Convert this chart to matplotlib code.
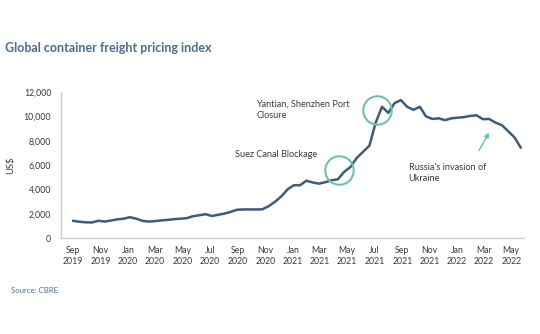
import numpy as np
import pandas as pd
import matplotlib
matplotlib.use("Agg")
import matplotlib.pyplot as plt

plt.rcParams['font.family'] = ['Lato', 'DejaVu Sans']

# fortnightly index values (US$), Sep 2019 - May 2022
dates = pd.date_range('2019-09-01', periods=72, freq='14D')
values = [1420, 1350, 1300, 1290, 1430, 1360, 1450, 1540, 1600, 1720,
          1600, 1420, 1360, 1400, 1460, 1500, 1560, 1600, 1640, 1800,
          1880, 1970, 1820, 1920, 2020, 2160, 2330, 2360, 2360, 2360,
          2370, 2620, 2980, 3420, 4000, 4350, 4350, 4720, 4580, 4480,
          4600, 4760, 4840, 5450, 5850, 6600, 7100, 7600, 9500, 10800,
          10300, 11100, 11350, 10800, 10550, 10800, 10000, 9800, 9850, 9700,
          9850, 9900, 9950, 10050, 10100, 9780, 9800, 9500, 9300, 8800,
          8300, 7450]

# events circled on the chart
event_dates = pd.to_datetime(['2021-04-14', '2021-07-07'])
event_values = [5590, 10520]

line_col = '#3e5b78'
teal = '#6fc2aa'
txt = '#3a3a3a'

fig = plt.figure(figsize=(5.4, 3.34), dpi=100)
ax = fig.add_axes([0.113, 0.287, 0.857, 0.437])

ax.plot(dates, values, color=line_col, lw=1.8, solid_joinstyle='round', zorder=3)
ax.plot(event_dates, event_values, 'o', ms=20.5, mfc='none', mec=teal, mew=1.5, zorder=4)

ax.set_ylim(0, 12000)
ax.set_yticks(np.arange(0, 12001, 2000))
ax.set_yticklabels([f'{v:,}' for v in range(0, 12001, 2000)])
ax.set_xlim(pd.Timestamp('2019-08-05'), pd.Timestamp('2022-05-29'))
ticks = pd.date_range('2019-09-01', '2022-05-01', freq='2MS')
ax.set_xticks(ticks)
ax.set_xticklabels([d.strftime('%b\n%Y') for d in ticks])
ax.tick_params(length=0, labelsize=6.3, colors=txt, pad=7)
ax.tick_params(axis='x', pad=6)
for s in ['top', 'right']:
    ax.spines[s].set_visible(False)
for s in ['left', 'bottom']:
    ax.spines[s].set_color('#c5ced6')
    ax.spines[s].set_linewidth(1.0)
ax.set_ylabel('US$', fontsize=6.8, color=txt, labelpad=6)

ax.text(pd.Timestamp('2020-10-12'), 10550, 'Yantian, Shenzhen Port\nClosure', fontsize=6.6,
        color=txt, va='center', ha='left', linespacing=1.2)
ax.text(pd.Timestamp('2020-08-26'), 6900, 'Suez Canal Blockage', fontsize=6.6,
        color=txt, va='center', ha='left')
ax.text(pd.Timestamp('2021-09-15'), 5340, "Russia's invasion of\nUkraine", fontsize=6.6,
        color=txt, va='center', ha='left', linespacing=1.3)
ax.annotate('', xy=(pd.Timestamp('2022-03-16'), 8880), xytext=(pd.Timestamp('2022-02-15'), 6990),
            arrowprops=dict(arrowstyle='-|>', color=teal, lw=1.0, mutation_scale=7))

fig.text(0.01, 0.855, 'Global container freight pricing index', fontsize=9,
         fontweight='bold', color='#4d6d8c', va='center')
fig.text(0.02, 0.13, 'Source: CBRE', fontsize=5.6, color='#4d6d8c', va='center')

fig.savefig('out.png', dpi=100, facecolor='white')
